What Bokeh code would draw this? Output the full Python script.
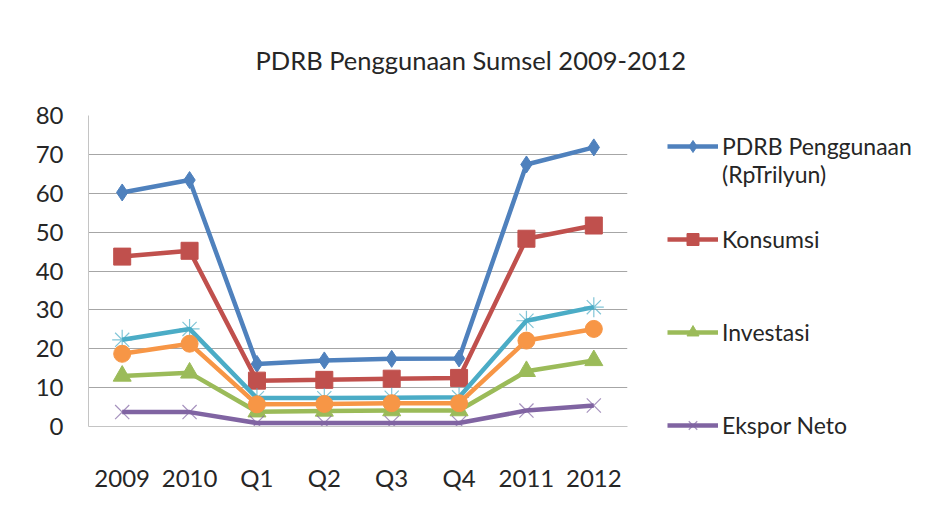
from bokeh.plotting import figure
from bokeh.models import Legend, LegendItem, Range1d, FixedTicker, Title
from bokeh.embed import file_html
from bokeh.resources import INLINE

# ---- data ----
categories = ["2009", "2010", "Q1", "Q2", "Q3", "Q4", "2011", "2012"]
pdrb_penggunaan = [60.2, 63.4, 16.1, 17.0, 17.4, 17.5, 67.4, 71.8]
konsumsi = [43.7, 45.2, 11.8, 12.0, 12.3, 12.5, 48.3, 51.7]
investasi = [13.0, 13.8, 3.8, 4.0, 4.1, 4.1, 14.2, 17.0]
ekspor_neto = [3.7, 3.7, 0.9, 0.9, 0.9, 0.9, 4.1, 5.4]
seri_5 = [22.3, 25.1, 7.3, 7.3, 7.4, 7.5, 27.2, 30.7]
seri_6 = [18.7, 21.3, 5.7, 5.8, 6.0, 6.0, 22.1, 25.1]
y_ticks = [0, 10, 20, 30, 40, 50, 60, 70, 80]
title_text = "PDRB Penggunaan Sumsel 2009-2012"
legend_labels = [" \nPDRB Penggunaan\n(RpTrilyun)", "Konsumsi", "Investasi", "Ekspor Neto"]

FONT = "Lato"
TXT = "#262626"

p = figure(x_range=categories, y_range=Range1d(0, 80),
           frame_width=539, frame_height=311,
           output_backend="svg", toolbar_location=None,
           min_border_left=88, min_border_right=0, min_border_top=115,
           min_border_bottom=90)
p.outline_line_color = None
p.background_fill_color = "white"
p.border_fill_color = "white"

p.title = Title(text=title_text, align="left", offset=167, standoff=82,
                text_font=FONT, text_font_size="25.5px", text_font_style="normal",
                text_color=TXT)

p.xgrid.grid_line_color = None
p.ygrid.grid_line_color = "#a6a6a6"
p.ygrid.grid_line_width = 1
p.yaxis.ticker = FixedTicker(ticks=y_ticks)

for ax in (p.xaxis, p.yaxis):
    ax.major_tick_line_color = None
    ax.minor_tick_line_color = None
    ax.axis_line_color = "#c4c4c4"
    ax.major_label_text_font = FONT
    ax.major_label_text_font_size = "24px"
    ax.major_label_text_color = TXT
p.yaxis.major_label_standoff = 19
p.xaxis.major_label_standoff = 30

series = [
    (pdrb_penggunaan, "#4F81BD", "diamond", 17),
    (konsumsi, "#C0504D", "square", 17),
    (investasi, "#9BBB59", "triangle", 18),
    (ekspor_neto, "#8064A2", "x", 20),
    (seri_5, "#4BACC6", "asterisk", 20),
    (seri_6, "#F79646", "circle", 17),
]

renders = []
for vals, col, mk, sz in series:
    ln = p.line(categories, vals, line_color=col, line_width=4.5)
    if mk in ("x", "asterisk"):
        sc = p.scatter(categories, vals, marker=mk, size=sz, line_color=col,
                       line_width=1.2, line_alpha=0.7, fill_color=None)
    else:
        sc = p.scatter(categories, vals, marker=mk, size=sz,
                       line_color=col, fill_color=col)
    renders.append([ln, sc])

items = [LegendItem(label=lab, renderers=renders[i]) for i, lab in enumerate(legend_labels)]
IH = 93
lg = Legend(items=items, location=(40, -45), orientation="vertical",
            padding=0, margin=0, spacing=0, glyph_width=51, glyph_height=30,
            label_height=IH, label_standoff=4, border_line_color=None,
            background_fill_alpha=0, label_text_font=FONT,
            label_text_font_size="23px", label_text_color=TXT)
p.add_layout(lg, "right")

open("out.html", "w").write(file_html(p, INLINE))
